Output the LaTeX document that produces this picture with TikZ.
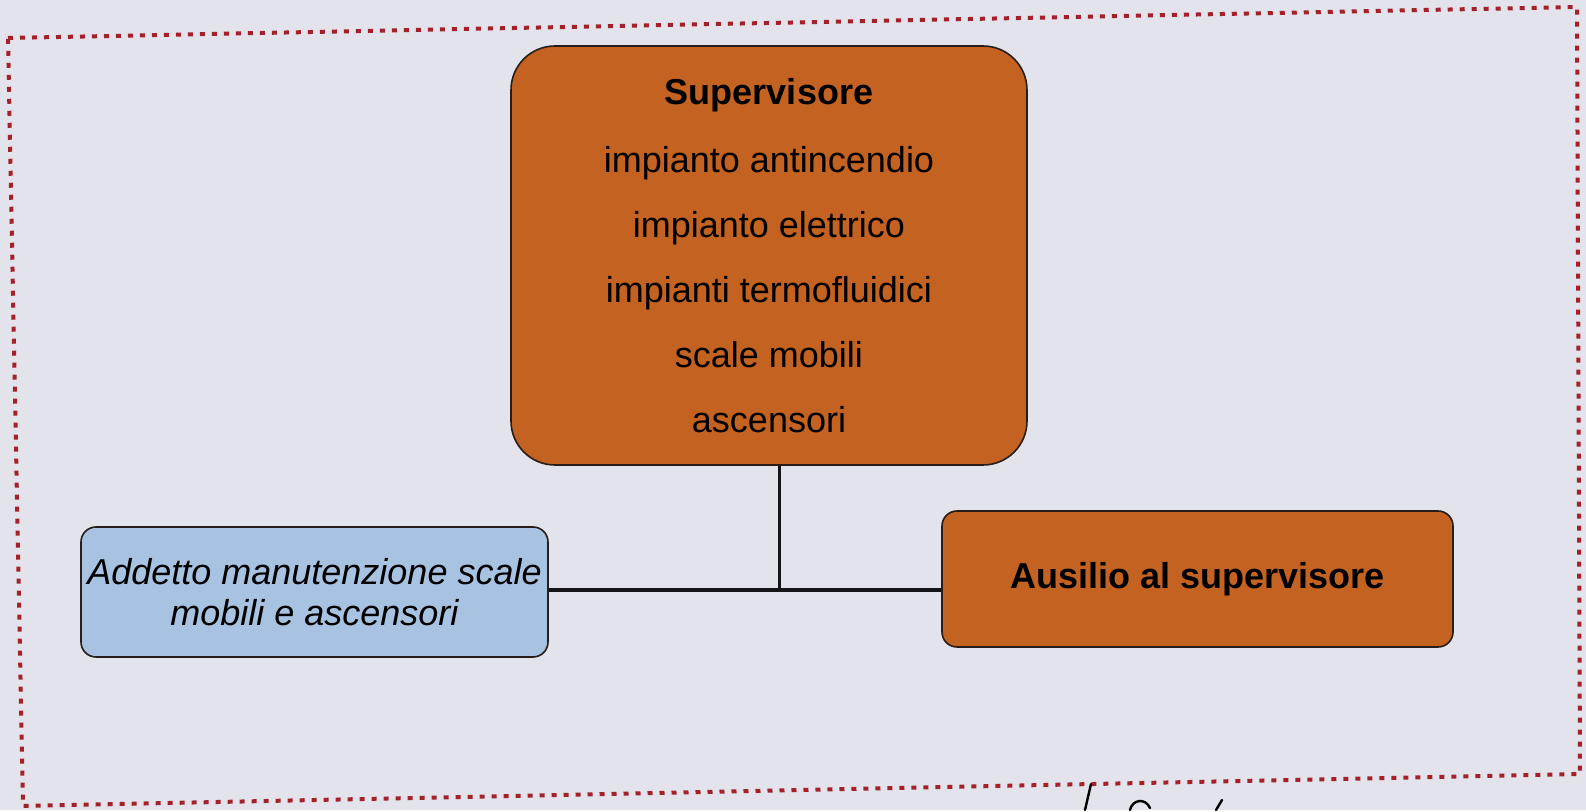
\documentclass[tikz,border=0pt]{standalone}
\usepackage{fontspec}
\setmainfont{Liberation Sans}
\usepackage{xcolor}
\definecolor{sfondo}{RGB}{226,227,235}
\definecolor{arancio}{RGB}{196,98,34}
\definecolor{azzurro}{RGB}{168,195,226}
\definecolor{cornice}{RGB}{165,32,42}

\begin{document}
\begin{tikzpicture}[x=0.5pt,y=0.5pt,yscale=-1,xscale=1,
  box/.style={draw={rgb,255:red,40;green,30;blue,25},line width=0.8pt,inner sep=0pt,align=center,font=\fontsize{18}{20.5}\selectfont},
  ruolo/.style={box,fill=arancio,rounded corners=7.5pt},
  addetto/.style={box,fill=azzurro,rounded corners=7.5pt,font=\fontsize{18}{20.5}\selectfont\itshape},
  linea/.style={draw={rgb,255:red,20;green,20;blue,25},line cap=butt}]
%set diagram as large as the scan
\path [fill=sfondo] (0,0) rectangle (1586,810);

%Shape: dotted frame
\draw [cornice,line width=2pt,dash pattern=on 2.5pt off 3.5pt] (8,38) -- (1577,7) -- (1580,774) -- (23,806) -- cycle ;

% Supervisore
\node [box,fill=arancio,rounded corners=22pt,minimum width=258pt,minimum height=209.5pt,font=\fontsize{18}{32.5}\selectfont] (sup) at (769,255.5)
  {\textbf{Supervisore}\\[1.5pt] impianto antincendio\\ impianto elettrico\\ impianti termofluidici\\ scale mobili\\ ascensori};
% Addetto
\node [addetto,minimum width=233.5pt,minimum height=65pt] (manut) at (314.5,592)
  {Addetto manutenzione scale\\ mobili e ascensori};
% Ausilio
\node [ruolo,minimum width=255.5pt,minimum height=68pt,font=\fontsize{18}{20.5}\selectfont\bfseries] (ausilio) at (1197.5,579)
  {Ausilio al supervisore};

% connectors
\coordinate (junc) at (779,590);
\draw [linea,line width=2pt] (manut.east |- junc) -- (ausilio.west |- junc);
\draw [linea,line width=1.5pt] (junc |- sup.south) -- (junc);

%handwritten strokes under the frame
\draw [line width=1.2pt,line cap=round] (1091,784) -- (1085,810);
\draw [line width=1.2pt,line cap=round] (1130,810) .. controls (1132,800) and (1145,797) .. (1150,808);
\draw [line width=1.2pt,line cap=round] (1222,800) -- (1216,810);

\end{tikzpicture}
\end{document}
